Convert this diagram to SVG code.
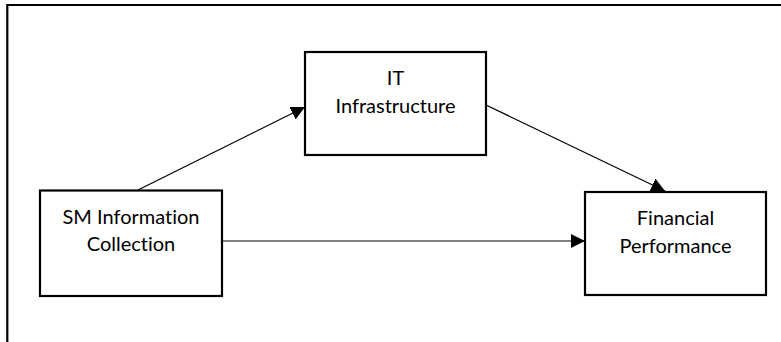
<svg xmlns="http://www.w3.org/2000/svg" width="781" height="342" viewBox="0 0 781 342">
<defs>
<style>
.box{fill:#fff;stroke:#000;stroke-width:2.2}
.frame{fill:none;stroke:#000;stroke-width:2.2}
.edge{fill:none;stroke:#000;stroke-width:1.2}
text{font-family:Lato,"Liberation Sans",sans-serif;font-size:20px;fill:#000;text-anchor:middle;font-variant-ligatures:none}
</style>
<marker id="arr" viewBox="0 0 10 10" refX="10" refY="5" markerWidth="14" markerHeight="14" markerUnits="userSpaceOnUse" orient="auto">
<path d="M0,0 L10,5 L0,10 z" fill="#000"/>
</marker>
</defs>
<rect width="781" height="342" fill="#fff"/>
<path class="frame" d="M7.3,342 V5 H781"/>
<g id="connectors">
<line class="edge" x1="138" y1="190" x2="305" y2="107" marker-end="url(#arr)"/>
<line class="edge" x1="486" y1="105" x2="665" y2="191" marker-end="url(#arr)"/>
<line class="edge" x1="222" y1="241" x2="585" y2="241" marker-end="url(#arr)"/>
</g>
<g id="it">
<rect class="box" x="305" y="52" width="181" height="103"/>
<text x="395.5" y="85">IT</text>
<text x="395.5" y="113">Infrastructure</text>
</g>
<g id="sm">
<rect class="box" x="40" y="190.5" width="182" height="105.5"/>
<text x="131" y="224">SM Information</text>
<text x="131" y="251">Collection</text>
</g>
<g id="fp">
<rect class="box" x="585" y="192" width="181" height="103"/>
<text x="675.5" y="225">Financial</text>
<text x="675.5" y="253">Performance</text>
</g>
</svg>
